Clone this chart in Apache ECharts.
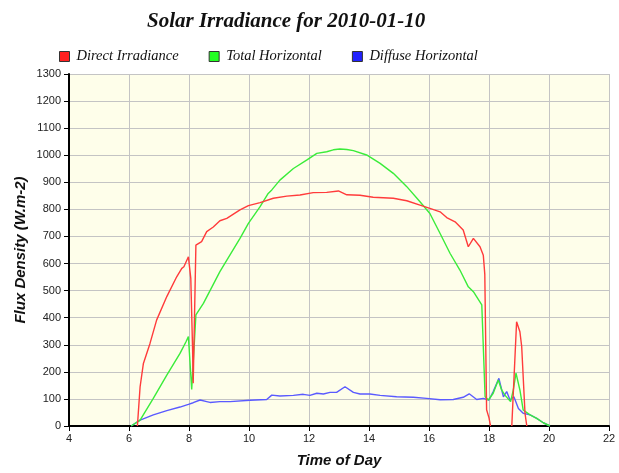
<!DOCTYPE html>
<html>
<head>
<meta charset="utf-8">
<script src="https://cdn.jsdelivr.net/npm/echarts@6/dist/echarts.min.js"></script>
<style>
  html, body { margin: 0; padding: 0; background: #fff; }
  #chart { width: 619px; height: 473px; }
</style>
</head>
<body>
<div id="chart"></div>
<script>
// series names, in legend order
const seriesNames = ['Direct Irradiance', 'Total Horizontal', 'Diffuse Horizontal'];

// Direct Irradiance (hours, W.m-2); null = gap while it sits on the axis
const directTimes = [6.28, 6.37, 6.48, 6.7, 6.92, 7.26, 7.59, 7.76, 7.83, 7.98, 8.06, 8.12, 8.14, 8.18, 8.23, 8.42, 8.59, 8.81, 9.03, 9.26, 9.7, 9.98, 10.37, 10.81, 11.26, 11.7, 12.14, 12.59, 12.98, 13.26, 13.7, 14.14, 14.81, 15.26, 15.7, 16.03, 16.37, 16.59, 16.87, 17.14, 17.31, 17.48, 17.7, 17.81, 17.86, 17.92, 18.0, 18.05, 18.4, 18.76, 18.92, 19.03, 19.09, 19.2, 19.26];
const directValues = [0, 145, 231, 305, 391, 478, 551, 582, 588, 625, 545, 281, 158, 160, 668, 681, 718, 735, 758, 767, 798, 814, 825, 841, 849, 853, 862, 863, 868, 854, 852, 845, 841, 832, 816, 804, 791, 770, 754, 724, 662, 693, 662, 631, 560, 60, 30, 0, null, 0, 385, 348, 293, 47, 0];

// Total Horizontal
const totalTimes = [6.07, 6.37, 6.81, 7.26, 7.7, 7.9, 7.98, 8.09, 8.23, 8.48, 9.03, 9.7, 9.98, 10.37, 10.64, 10.76, 11.03, 11.48, 11.92, 12.26, 12.59, 12.81, 13.03, 13.26, 13.48, 13.92, 14.37, 14.81, 15.26, 15.7, 16.03, 16.37, 16.7, 17.03, 17.31, 17.48, 17.76, 17.87, 17.98, 18.14, 18.31, 18.42, 18.53, 18.59, 18.72, 18.81, 18.9, 19.03, 19.14, 19.37, 19.59, 19.81, 20.03];
const totalValues = [0, 22, 102, 188, 268, 311, 330, 135, 410, 453, 570, 693, 748, 810, 859, 872, 908, 951, 982, 1007, 1013, 1020, 1023, 1021, 1017, 1001, 970, 933, 884, 828, 785, 711, 638, 576, 514, 496, 447, 108, 96, 121, 170, 133, 114, 121, 90, 133, 195, 133, 59, 41, 28, 12, 0];

// Diffuse Horizontal
const diffuseTimes = [6.07, 6.37, 6.81, 7.26, 7.7, 7.98, 8.14, 8.37, 8.59, 8.7, 9.03, 9.37, 10.03, 10.59, 10.76, 11.03, 11.48, 11.81, 12.03, 12.26, 12.48, 12.7, 12.92, 13.2, 13.48, 13.7, 14.03, 14.37, 14.92, 15.48, 15.92, 16.37, 16.81, 17.14, 17.34, 17.59, 17.81, 18.0, 18.14, 18.33, 18.48, 18.59, 18.7, 18.83, 18.98, 19.14, 19.37, 19.59, 19.81, 20.03];
const diffuseValues = [0, 22, 41, 57, 70, 80, 86, 96, 90, 87, 90, 90, 95, 98, 114, 111, 113, 117, 113, 121, 118, 124, 124, 145, 124, 118, 118, 113, 108, 106, 102, 97, 98, 106, 119, 98, 102, 96, 127, 176, 108, 127, 96, 108, 65, 47, 41, 28, 12, 0];

// axis ticks
const xTicks = { min: 4, max: 22, interval: 2 };
const yTicks = { min: 0, max: 1300, interval: 100 };

const pairs = (ts, vs) => ts.map((t, i) => [t, vs[i] === null ? '-' : vs[i]]);

const chart = echarts.init(document.getElementById('chart'), null, { renderer: 'canvas' });

const lineSeries = (name, ts, vs, lineColor, boxColor, z) => ({
  name: name,
  type: 'line',
  showSymbol: false,
  symbol: 'none',
  connectNulls: false,
  z: z,
  data: pairs(ts, vs),
  lineStyle: { color: lineColor, width: 1.4 },
  itemStyle: { color: boxColor },
  emphasis: { disabled: true },
  animation: false
});

const option = {
  animation: false,
  title: {
    text: 'Solar Irradiance for 2010-01-10',
    left: 142,
    top: 6,
    textStyle: {
      fontFamily: 'Liberation Serif',
      fontStyle: 'italic',
      fontWeight: 'bold',
      fontSize: 21,
      color: '#111'
    }
  },
  legend: {
    data: seriesNames,
    left: 59,
    top: 49,
    padding: 0,
    icon: 'rect',
    itemWidth: 10,
    itemHeight: 10,
    itemGap: 30,
    itemStyle: { borderColor: '#333', borderWidth: 1 },
    textStyle: {
      fontFamily: 'Liberation Serif',
      fontStyle: 'italic',
      fontSize: 14.5,
      color: '#111',
      padding: [0, 0, 0, 2]
    }
  },
  grid: {
    left: 69,
    right: 10,
    top: 74,
    bottom: 47,
    show: true,
    backgroundColor: '#fefeea',
    borderWidth: 0
  },
  xAxis: {
    type: 'value',
    min: xTicks.min,
    max: xTicks.max,
    interval: xTicks.interval,
    name: 'Time of Day',
    nameLocation: 'middle',
    nameGap: 27,
    nameMoveOverlap: false,
    nameTextStyle: {
      fontFamily: 'Liberation Sans',
      fontStyle: 'italic',
      fontWeight: 'bold',
      fontSize: 15,
      color: '#111'
    },
    axisLine: { lineStyle: { color: '#000', width: 2 } },
    axisTick: { length: 5, lineStyle: { color: '#000', width: 1 } },
    axisLabel: { fontFamily: 'Liberation Sans', fontSize: 11, color: '#222', margin: 7 },
    splitLine: { show: true, lineStyle: { color: '#c4c4c4', width: 1 } }
  },
  yAxis: {
    type: 'value',
    min: yTicks.min,
    max: yTicks.max,
    interval: yTicks.interval,
    name: 'Flux Density (W.m-2)',
    nameLocation: 'middle',
    nameRotate: 90,
    nameGap: 41,
    nameMoveOverlap: false,
    nameTextStyle: {
      fontFamily: 'Liberation Sans',
      fontStyle: 'italic',
      fontWeight: 'bold',
      fontSize: 15,
      color: '#111'
    },
    axisLine: { show: true, lineStyle: { color: '#000', width: 2 } },
    axisTick: { show: true, length: 5, lineStyle: { color: '#000', width: 1 } },
    axisLabel: {
      fontFamily: 'Liberation Sans', fontSize: 11, color: '#222', margin: 8,
      formatter: (v) => String(v)
    },
    splitLine: { show: true, lineStyle: { color: '#c4c4c4', width: 1 } }
  },
  series: [
    lineSeries(seriesNames[0], directTimes, directValues, '#ff3b3b', '#ff2020', 4),
    lineSeries(seriesNames[1], totalTimes, totalValues, '#3aec3a', '#22ff22', 3),
    lineSeries(seriesNames[2], diffuseTimes, diffuseValues, '#5a5aff', '#2222ff', 2)
  ]
};

chart.setOption(option);
</script>
</body>
</html>
